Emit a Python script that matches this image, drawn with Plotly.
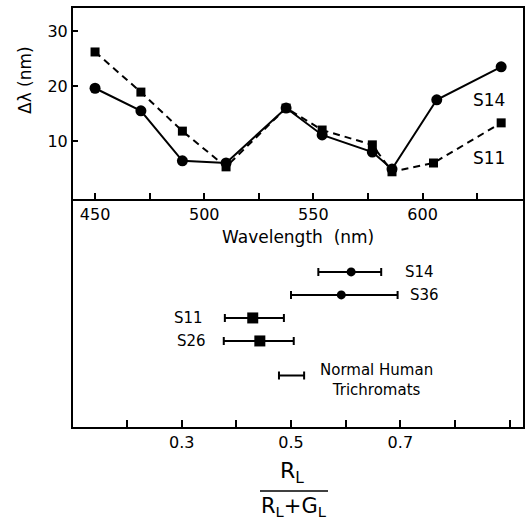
import plotly.graph_objects as go

# ---- Top panel data: wavelength discrimination ----
wl_s14 = [450, 471, 490, 510, 537.5, 554, 577, 586, 606.5, 636]
dl_s14 = [19.6, 15.5, 6.4, 6.0, 16.0, 11.1, 8.0, 4.9, 17.5, 23.5]
wl_s11 = [450, 471, 490, 510, 537.5, 554, 577, 586, 605, 636]
dl_s11 = [26.2, 18.9, 11.8, 5.3, 16.0, 12.0, 9.3, 4.4, 6.0, 13.3]

# ---- Bottom panel data: Rayleigh match ratios ----
subjects = ["S14", "S36", "S11", "S26", "Normal Human<br>Trichromats"]
row_pos = [1, 2, 3, 4, 5.5]
ratio_mid = [0.61, 0.592, 0.43, 0.443, 0.50]
ratio_lo = [0.55, 0.50, 0.379, 0.377, 0.478]
ratio_hi = [0.665, 0.695, 0.487, 0.505, 0.524]
marker_sym = ["circle", "circle", "square", "square", None]

top_xticks = [450, 500, 550, 600]
top_yticks = [10, 20, 30]
bot_xticks = [0.3, 0.5, 0.7]

W, H = 526, 522
def px_x(p): return p / W
def px_y(p): return 1 - p / H

FONT = "DejaVu Sans"
fig = go.Figure()

fig.add_trace(go.Scatter(x=wl_s14, y=dl_s14, mode="lines+markers",
                         line=dict(color="black", width=2),
                         marker=dict(symbol="circle", size=11, color="black"),
                         xaxis="x", yaxis="y", showlegend=False))
fig.add_trace(go.Scatter(x=wl_s11, y=dl_s11, mode="lines+markers",
                         line=dict(color="black", width=2, dash="7px,5px"),
                         marker=dict(symbol="square", size=9, color="black"),
                         xaxis="x", yaxis="y", showlegend=False))

for name, y, m, lo, hi, sym in zip(subjects, row_pos, ratio_mid, ratio_lo, ratio_hi, marker_sym):
    fig.add_trace(go.Scatter(
        x=[m], y=[y], mode="markers",
        marker=dict(symbol=sym or "circle", size=(11 if sym == "square" else 9) if sym else 1,
                    color="black", opacity=1 if sym else 0),
        error_x=dict(type="data", symmetric=False, array=[hi - m], arrayminus=[m - lo],
                     color="black", thickness=2, width=4),
        xaxis="x2", yaxis="y2", showlegend=False))

def txt(size):
    return dict(family=FONT, size=size, color="black")

# top panel series labels
fig.add_annotation(x=630.5, y=17.5, xref="x", yref="y", text="S14", showarrow=False,
                   xanchor="center", yanchor="middle", font=txt(17))
fig.add_annotation(x=630.5, y=6.9, xref="x", yref="y", text="S11", showarrow=False,
                   xanchor="center", yanchor="middle", font=txt(17))

# bottom panel labels
label_specs = [
    (0.705, row_pos[0], "S14", "left"),
    (0.714, row_pos[1], "S36", "left"),
    (0.342, row_pos[2], "S11", "right"),
    (0.348, row_pos[3], "S26", "right"),
]
for x, y, t, anc in label_specs:
    fig.add_annotation(x=x, y=y, xref="x2", yref="y2", text=t, showarrow=False,
                       xanchor=anc, yanchor="middle", font=txt(15))
fig.add_annotation(x=0.5495, y=row_pos[4] + 0.2, xref="x2", yref="y2", text=subjects[4],
                   showarrow=False, xanchor="left", yanchor="middle", align="center",
                   font=txt(15))

# axis titles
fig.add_annotation(x=px_x(298), y=px_y(237), xref="paper", yref="paper",
                   text="Wavelength  (nm)", showarrow=False,
                   xanchor="center", yanchor="middle", font=txt(17))
fig.add_annotation(x=px_x(25), y=px_y(80), xref="paper", yref="paper",
                   text="Δλ (nm)", textangle=-90, showarrow=False,
                   xanchor="center", yanchor="middle", font=txt(17))
fig.add_annotation(x=px_x(292), y=px_y(472), xref="paper", yref="paper",
                   text="R<sub>L</sub>", showarrow=False,
                   xanchor="center", yanchor="middle", font=txt(22))
fig.add_annotation(x=px_x(294), y=px_y(507), xref="paper", yref="paper",
                   text="R<sub>L</sub>+G<sub>L</sub>", showarrow=False,
                   xanchor="center", yanchor="middle", font=txt(21))
fig.add_shape(type="line", xref="paper", yref="paper",
              x0=px_x(260), x1=px_x(328), y0=px_y(491), y1=px_y(491),
              line=dict(color="black", width=1.5))

xdom = [px_x(73), px_x(523)]
axis_common = dict(showline=True, linecolor="black", linewidth=2, showgrid=False,
                   zeroline=False, ticks="inside", tickcolor="black", tickwidth=1.5,
                   tickfont=txt(16))

fig.update_layout(
    width=W, height=H, margin=dict(l=0, r=0, t=0, b=0),
    paper_bgcolor="white", plot_bgcolor="white",
    xaxis=dict(domain=xdom, anchor="y", range=[439.9, 646], tickvals=top_xticks,
               ticklen=6, mirror=True,
               minor=dict(ticks="inside", dtick=25, tick0=450, ticklen=6,
                          tickcolor="black", tickwidth=1.5, showgrid=False),
               **axis_common),
    yaxis=dict(domain=[px_y(199), px_y(8)], anchor="x", range=[-0.55, 34.2],
               tickvals=top_yticks, ticklen=5, mirror=True, **axis_common),
    xaxis2=dict(domain=xdom, anchor="y2", range=[0.1012, 0.9244], tickvals=bot_xticks,
                ticklen=7, tickformat=".1f",
                minor=dict(ticks="inside", dtick=0.1, tick0=0.2, ticklen=7,
                           tickcolor="black", tickwidth=1.5, showgrid=False),
                **axis_common),
    yaxis2=dict(domain=[px_y(427), px_y(199)], anchor="x2", range=[7.74, -2.17],
                showline=True, linecolor="black", linewidth=2, mirror=True,
                showgrid=False, zeroline=False, showticklabels=False, ticks=""),
)

fig.write_html("out.html")
